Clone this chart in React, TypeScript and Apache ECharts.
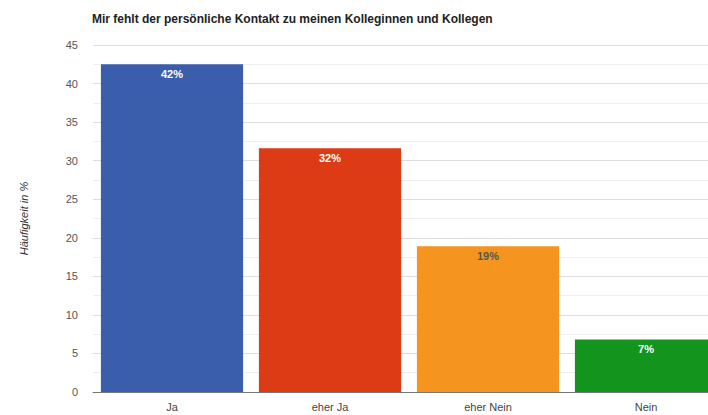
import React, { useEffect, useRef } from "react";
import * as echarts from "echarts";

const categories = ["Ja", "eher Ja", "eher Nein", "Nein"];
const values = [42.5, 31.6, 18.9, 6.8];
const labels = ["42%", "32%", "19%", "7%"];
const colors = ["#3a5eab", "#dc3b16", "#f5951f", "#13941c"];
const labelColors = ["#ffffff", "#ffffff", "#555555", "#ffffff"];

export default function App() {
  const ref = useRef<HTMLDivElement>(null);
  useEffect(() => {
    const chart = echarts.init(ref.current!, undefined, { renderer: "svg" });
    chart.setOption({
      animation: false,
      title: {
        text: "Mir fehlt der persönliche Kontakt zu meinen Kolleginnen und Kollegen",
        left: 87,
        top: 8,
        textStyle: { fontFamily: "Liberation Sans, Arial", fontSize: 12, fontWeight: "bold", color: "#222" },
      },
      grid: { left: 93, width: 632, top: 45, height: 347, outerBoundsMode: "none", containLabel: false },
      xAxis: {
        type: "category",
        data: categories,
        axisLine: { lineStyle: { color: "#777", width: 1 } },
        axisTick: { show: false },
        axisLabel: { color: "#444", fontSize: 11, fontFamily: "Liberation Sans, Arial", margin: 9 },
      },
      yAxis: {
        type: "value",
        min: 0,
        max: 45,
        interval: 5,
        name: "Häufigkeit in %",
        nameLocation: "middle",
        nameGap: 64,
        nameTextStyle: { fontStyle: "italic", fontSize: 11, color: "#333", fontFamily: "Liberation Sans, Arial" },
        axisLine: { show: false },
        axisTick: { show: false },
        axisLabel: { color: "#555", fontSize: 11, fontFamily: "Liberation Sans, Arial", margin: 15 },
        splitLine: { lineStyle: { color: "#dddddd", width: 1 } },
        minorSplitLine: { show: true, lineStyle: { color: "#eeeeee", width: 1 } },
        minorTick: { show: false, splitNumber: 2 },
      },
      series: [
        {
          type: "bar",
          barCategoryGap: "10%",
          data: values.map((v, i) => ({
            value: v,
            itemStyle: { color: colors[i] },
            label: { color: labelColors[i] },
          })),
          label: {
            show: true,
            position: "insideTop",
            distance: 4,
            fontSize: 11,
            fontWeight: "bold",
            fontFamily: "Liberation Sans, Arial",
            formatter: (p: any) => labels[p.dataIndex],
          },
        },
      ],
    });
    return () => chart.dispose();
  }, []);
  return <div ref={ref} style={{ width: 708, height: 415, position: "absolute", left: 0, top: 0 }} />;
}
